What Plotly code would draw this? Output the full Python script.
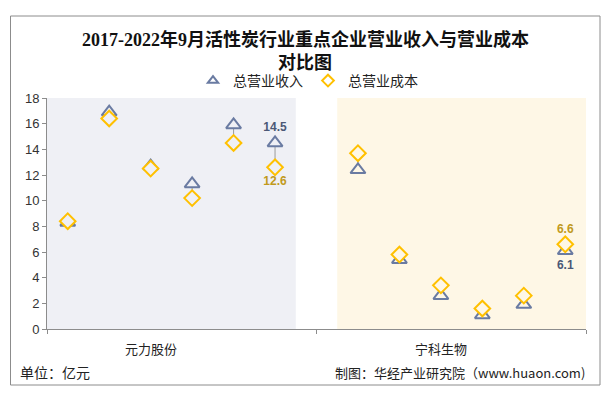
import plotly.graph_objects as go

# data (亿元)
companies = ['元力股份', '宁科生物']
years = ['2017', '2018', '2019', '2020', '2021', '2022.9']
revenue = {
    '元力股份': [8.3, 16.9, 12.7, 11.3, 15.9, 14.5],
    '宁科生物': [12.4, 5.4, 2.6, 1.1, 1.9, 6.1],
}
cost = {
    '元力股份': [8.4, 16.4, 12.5, 10.2, 14.5, 12.6],
    '宁科生物': [13.7, 5.8, 3.4, 1.6, 2.6, 6.6],
}
yticks = list(range(0, 19, 2))
title_lines = ['2017-2022年9月活性炭行业重点企业营业收入与营业成本', '对比图']

# the page body has an 8px margin, so the figure is drawn 8px smaller and everything
# is positioned in page pixels minus that offset
OFF = 8
W, H = 609 - OFF, 400 - OFF
L, R, T, B = 47 - OFF, 609 - 586, 98 - OFF, 400 - 329
pw, ph = W - L - R, H - T - B


def px_x(px):
    return (px - OFF - L) / pw


def px_y(py):
    return (H - B - (py - OFF)) / ph


shade = {'元力股份': '#EFF0F5', '宁科生物': '#FEF7E6'}
rev_color = '#6A7BA2'
cost_color = '#FFC000'

# x positions: 6 slots per company, one empty slot between groups
xs, rev_all, cost_all, fills = [], [], [], []
group_start = {}
for g, c in enumerate(companies):
    start = g * (len(years) + 1)
    group_start[c] = start
    for k in range(len(years)):
        xs.append(start + k + 0.5)
        rev_all.append(revenue[c][k])
        cost_all.append(cost[c][k])
        fills.append(shade[c])

n = len(xs)
last = [len(years) - 1, n - 1]

# labels only on last points
rev_text = [f'{v:.1f}' if i in last else '' for i, v in enumerate(rev_all)]
cost_text = [f'{v:.1f}' if i in last else '' for i, v in enumerate(cost_all)]
rev_pos = ['top center' if rev_all[i] >= cost_all[i] else 'bottom center' for i in range(n)]
cost_pos = ['bottom center' if rev_all[i] >= cost_all[i] else 'top center' for i in range(n)]

# hi-low connector lines
lx, ly = [], []
for x, a, b in zip(xs, rev_all, cost_all):
    lx += [x, x, None]
    ly += [a, b, None]

fig = go.Figure()
fig.add_trace(go.Scatter(x=lx, y=ly, mode='lines', line=dict(color='#9A9A9A', width=1),
                         showlegend=False, hoverinfo='skip'))
fig.add_trace(go.Scatter(
    x=xs, y=rev_all, mode='markers+text', name='总营业收入', showlegend=False,
    marker=dict(symbol='triangle-up', size=13, color=fills, line=dict(color=rev_color, width=2)),
    text=rev_text, textposition=rev_pos,
    textfont=dict(family='Arial', size=12, color='#4B5876', weight='bold'),
))
fig.add_trace(go.Scatter(
    x=xs, y=cost_all, mode='markers+text', name='总营业成本', showlegend=False,
    marker=dict(symbol='diamond', size=12, color=fills, line=dict(color=cost_color, width=2)),
    text=cost_text, textposition=cost_pos,
    textfont=dict(family='Arial', size=12, color='#C19A1B', weight='bold'),
))
# legend entries with smaller symbols
fig.add_trace(go.Scatter(x=[None], y=[None], mode='markers', name='总营业收入',
                         marker=dict(symbol='triangle-up-open', size=9,
                                     line=dict(color=rev_color, width=2), color=rev_color)))
fig.add_trace(go.Scatter(x=[None], y=[None], mode='markers', name='总营业成本',
                         marker=dict(symbol='diamond-open', size=9,
                                     line=dict(color=cost_color, width=2), color=cost_color)))

shapes = []
for c in companies:
    s = group_start[c]
    shapes.append(dict(type='rect', xref='x', yref='y', x0=s, x1=s + len(years),
                       y0=0, y1=max(yticks), fillcolor=shade[c], line_width=0, layer='below'))
# outer frame
shapes.append(dict(type='rect', xref='paper', yref='paper', x0=px_x(10.5), x1=px_x(600),
                   y0=px_y(385), y1=px_y(16), line=dict(color='#8C8C8C', width=1),
                   fillcolor='rgba(0,0,0,0)'))

annotations = []
for i, line in enumerate(title_lines):
    annotations.append(dict(x=px_x(305), xref='paper', y=px_y(39 + 24 * i), yref='paper',
                            text=line, showarrow=False, xanchor='center', yanchor='middle',
                            font=dict(family='Liberation Serif, Noto Sans CJK SC', size=18,
                                      color='#111', weight='bold')))
for c in companies:
    annotations.append(dict(x=group_start[c] + 2.5, xref='x', y=px_y(348), yref='paper',
                            text=c, showarrow=False, xanchor='center', yanchor='middle',
                            font=dict(size=13, color='#222')))
annotations.append(dict(x=px_x(18), xref='paper', y=px_y(372), yref='paper', text='单位：亿元',
                        showarrow=False, xanchor='left', yanchor='middle',
                        font=dict(size=14, color='#222')))
annotations.append(dict(x=px_x(587), xref='paper', y=px_y(372), yref='paper',
                        text='制图：华经产业研究院（www.huaon.com)',
                        showarrow=False, xanchor='right', yanchor='middle',
                        font=dict(size=13, color='#222')))

fig.update_layout(
    width=W, height=H,
    margin=dict(l=L, r=R, t=T, b=B, autoexpand=False),
    paper_bgcolor='white', plot_bgcolor='white',
    font=dict(family='Noto Sans CJK SC', color='#222'),
    legend=dict(orientation='h', xref='container', x=(308 - OFF) / W, xanchor='center',
                yref='container', y=1 - (81 - OFF) / H, yanchor='middle',
                font=dict(size=14, color='#222'), itemwidth=30,
                bgcolor='rgba(0,0,0,0)', tracegroupgap=0),
    xaxis=dict(range=[0, len(companies) * (len(years) + 1) - 1],
               tickvals=[0, len(years) + 0.5, len(companies) * (len(years) + 1) - 1],
               ticktext=['', '', ''], ticks='outside', ticklen=4, tickcolor='#8C8C8C',
               showline=True, linecolor='#8C8C8C', showgrid=False, zeroline=False, fixedrange=True),
    yaxis=dict(range=[0, max(yticks)], tickvals=yticks, ticks='outside', ticklen=4,
               tickcolor='#8C8C8C', showline=True, linecolor='#8C8C8C', showgrid=False,
               zeroline=False, tickfont=dict(family='Arial', size=13, color='#333')),
    shapes=shapes, annotations=annotations,
)

fig.write_html('out.html')
